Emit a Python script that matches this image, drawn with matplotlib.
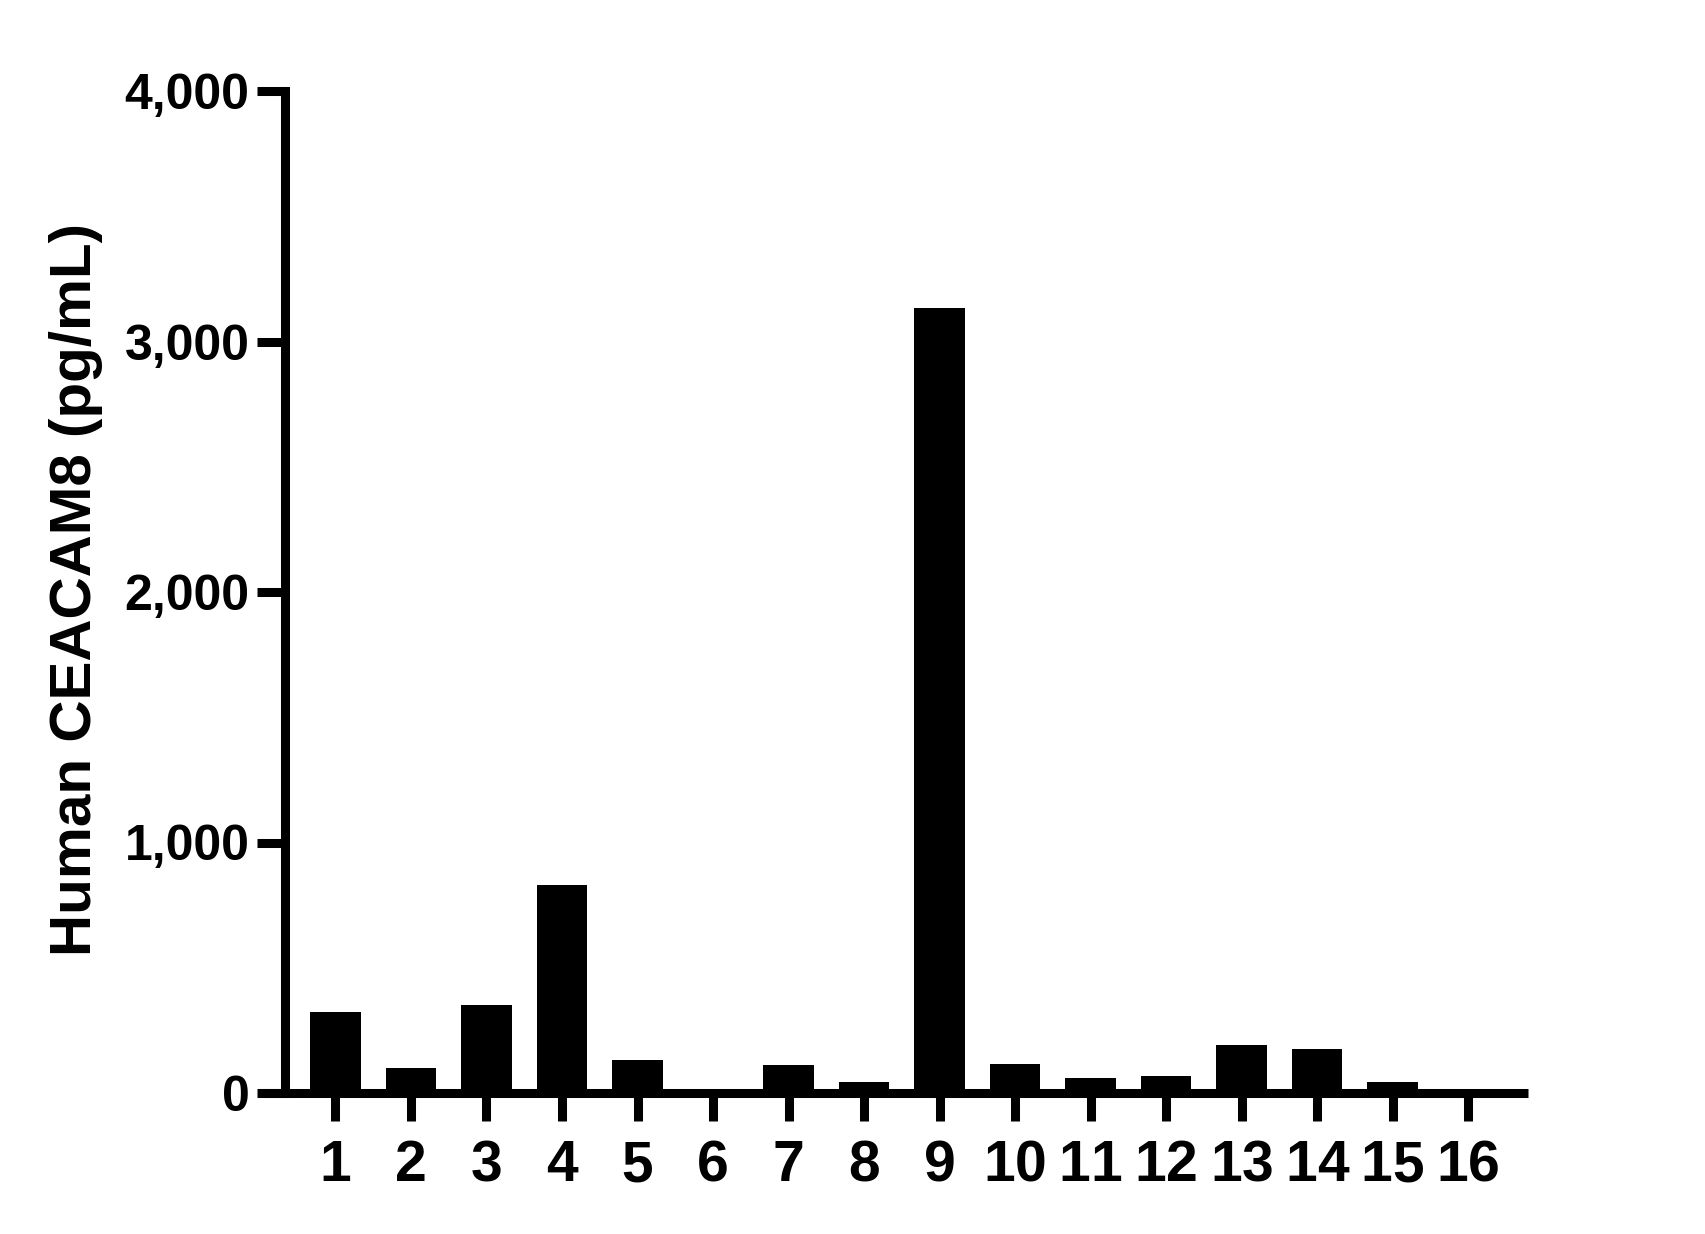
import matplotlib
matplotlib.use("Agg")
import matplotlib.pyplot as plt
from matplotlib import transforms
from matplotlib.ticker import FuncFormatter

categories = ["1", "2", "3", "4", "5", "6", "7", "8", "9", "10", "11", "12", "13", "14", "15", "16"]
values = [324, 100, 352, 832, 132, 0, 112, 45, 3133, 116, 60, 68, 192, 176, 44, 0]
y_ticks = [0, 1000, 2000, 3000, 4000]
y_label = "Human CEACAM8 (pg/mL)"

W, H = 1706, 1234
fig = plt.figure(figsize=(W / 100, H / 100), dpi=100)
fig.patch.set_facecolor("white")

font = "Liberation Sans"

# axes geometry in pixels
left_px, right_px = 258, 1528
bottom_px, top_px = 1093, 91
ax = fig.add_axes([left_px / W, 1 - bottom_px / H,
                   (right_px - left_px) / W, (bottom_px - top_px) / H])

x = list(range(1, len(categories) + 1))
ax.bar(x, values, width=0.675, color="black", edgecolor="none", zorder=2)

spacing_px = 75.5
first_px = 335.5
spine_px = 285.5
xmin = 1 - (first_px - left_px) / spacing_px
xmax = 1 + (right_px - first_px) / spacing_px
ax.set_xlim(xmin, xmax)
ax.set_ylim(0, 4000)

lw = 6.5
for s in ["top", "right"]:
    ax.spines[s].set_visible(False)
ax.spines["left"].set_position(("data", 1 - (first_px - spine_px) / spacing_px))
ax.spines["left"].set_linewidth(lw)
ax.spines["bottom"].set_linewidth(lw)
ax.spines["left"].set_capstyle("projecting")
ax.spines["bottom"].set_capstyle("butt")
ax.spines["left"].set_zorder(3)
ax.spines["bottom"].set_zorder(3)

ax.set_xticks(x)
ax.set_xticklabels([])
trans = transforms.blended_transform_factory(ax.transData, fig.transFigure)
baseline_y = 1 - 1181 / H
for xi, lab in zip(x, categories):
    # draw each label as one text object per character to avoid kerning glitches
    n = len(lab)
    for k, ch in enumerate(lab):
        off = (k - (n - 1) / 2) * 31.5  # pixel advance per digit
        t = transforms.offset_copy(trans, fig=fig, x=off * 0.72, y=0, units="points")
        ax.text(xi, baseline_y, ch, transform=t, ha="center", va="baseline",
                fontfamily=font, fontweight="bold", fontsize=41, clip_on=False)

ax.set_yticks(y_ticks)
ax.yaxis.set_major_formatter(FuncFormatter(lambda v, p: f"{int(v):,}"))
for lab in ax.get_yticklabels():
    lab.set_fontfamily(font)
    lab.set_fontweight("bold")
    lab.set_fontsize(36)

ax.tick_params(axis="x", direction="out", length=20, width=lw, color="black")
ax.tick_params(axis="y", direction="out", length=20, width=lw, pad=6, color="black")

fig.text(76 / W, 1 - 589 / H, y_label, rotation=90, ha="center", va="center",
         fontfamily=font, fontweight="bold", fontsize=42)

fig.savefig("out.png", dpi=100, facecolor="white")
